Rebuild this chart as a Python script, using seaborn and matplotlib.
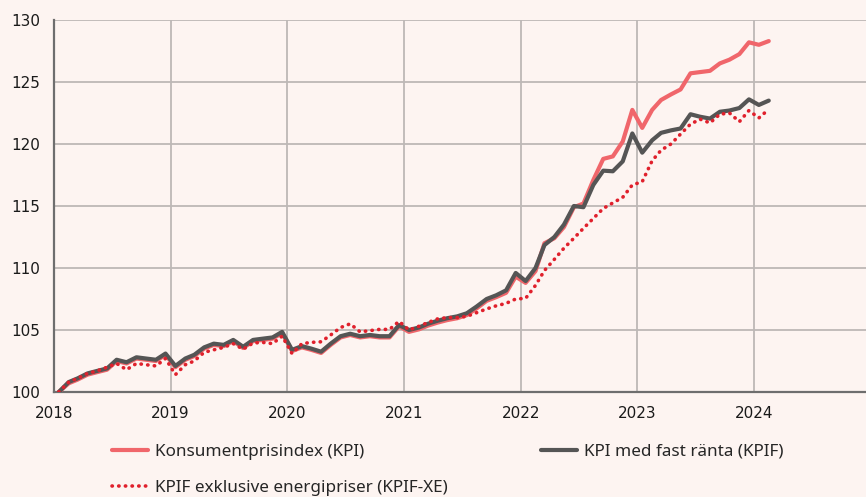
import pandas as pd
import matplotlib
matplotlib.use('Agg')
import matplotlib.pyplot as plt
import seaborn as sns

# Monthly index values, Jan 2018 - Feb 2024
kpif = [100.0, 100.8, 101.1, 101.5, 101.7, 101.9, 102.6, 102.4, 102.8, 102.7, 102.6, 103.1,
        102.1, 102.7, 103.0, 103.6, 103.9, 103.8, 104.2, 103.65, 104.2, 104.3, 104.4, 104.85,
        103.4, 103.7, 103.5, 103.25, 103.9, 104.5, 104.7, 104.5, 104.6, 104.5, 104.5, 105.4,
        105.0, 105.2, 105.5, 105.75, 105.95, 106.1, 106.35, 106.9, 107.5, 107.8, 108.2, 109.6,
        108.95, 110.0, 111.85, 112.5, 113.5, 115.0, 114.9, 116.7, 117.85, 117.8, 118.6, 120.85,
        119.3, 120.3, 120.9, 121.1, 121.25, 122.4, 122.2, 122.05, 122.6, 122.7, 122.9, 123.6,
        123.15, 123.5]

kpi = [100.0, 100.7, 101.0, 101.4, 101.6, 101.8, 102.5, 102.3, 102.7, 102.6, 102.5, 103.0,
       102.0, 102.6, 102.9, 103.5, 103.8, 103.7, 104.1, 103.55, 104.1, 104.2, 104.3, 104.75,
       103.3, 103.6, 103.4, 103.15, 103.8, 104.4, 104.6, 104.4, 104.5, 104.4, 104.4, 105.3,
       104.85, 105.05, 105.35, 105.6, 105.8, 105.95, 106.2, 106.75, 107.35, 107.65, 108.0, 109.3,
       108.8, 109.75, 112.0, 112.4, 113.3, 114.9, 115.2, 117.1, 118.8, 119.0, 120.2, 122.75,
       121.3, 122.75, 123.55, 124.0, 124.4, 125.7, 125.8, 125.9, 126.5, 126.8, 127.25, 128.2,
       128.0, 128.3]

kpif_xe = [100.0, 100.8, 101.1, 101.5, 101.7, 102.0, 102.3, 101.8, 102.3, 102.2, 102.1, 102.7,
           101.4, 102.2, 102.5, 103.2, 103.4, 103.6, 103.9, 103.45, 103.95, 104.0, 103.9, 104.5,
           103.1, 103.9, 104.0, 104.05, 104.6, 105.2, 105.5, 104.85, 104.95, 105.05, 105.05, 105.7,
           105.0, 105.3, 105.6, 105.9, 106.0, 106.0, 106.1, 106.4, 106.7, 106.95, 107.15, 107.5,
           107.55, 108.6, 109.8, 110.7, 111.6, 112.4, 113.2, 114.0, 114.8, 115.25, 115.7, 116.7,
           116.96, 118.65, 119.5, 120.0, 120.8, 121.6, 122.0, 121.7, 122.4, 122.5, 121.8, 122.7,
           122.1, 122.8]

labels = ['Konsumentprisindex (KPI)', 'KPI med fast ränta (KPIF)',
          'KPIF exklusive energipriser (KPIF-XE)']
years = list(range(2018, 2026))

dates = pd.date_range('2018-01-01', periods=len(kpif), freq='MS') + pd.Timedelta(days=15)
df = pd.DataFrame({'date': dates, 'KPI': kpi, 'KPIF': kpif, 'KPIF-XE': kpif_xe})

bg = '#fdf4f1'
sns.set_style('white')
plt.rcParams['font.family'] = ['DejaVu Sans']

fig = plt.figure(figsize=(8.66, 4.97), dpi=100, facecolor=bg)
ax = fig.add_axes([54 / 866, 1 - 392 / 497, (871 - 54) / 866, 372 / 497])
ax.set_facecolor(bg)

sns.lineplot(data=df, x='date', y='KPI', ax=ax, color='#f0666b', lw=3.0,
             label=labels[0], zorder=3)
sns.lineplot(data=df, x='date', y='KPIF', ax=ax, color='#555555', lw=3.0,
             label=labels[1], zorder=4)
sns.lineplot(data=df, x='date', y='KPIF-XE', ax=ax, color='#e0202c', lw=2.6,
             label=labels[2], zorder=5, linestyle=(0, (0.1, 1.75)),
             dash_capstyle='round')

ax.set_xlim(pd.Timestamp('2018-01-01'), pd.Timestamp('2025-01-01'))
ax.set_ylim(100, 130)
ax.set_yticks(range(100, 131, 5))
ticks = [pd.Timestamp(f'{y}-01-01') for y in years]
ax.set_xticks(ticks)
# last year label falls outside the picture in the reference
ax.set_xticklabels([str(y) if y < 2025 else '' for y in years])
ax.set_xlabel('')
ax.set_ylabel('')

ax.grid(True, color='#bdb8b6', lw=1.3, zorder=0)
ax.set_axisbelow(True)
for s in ['top', 'right']:
    ax.spines[s].set_visible(False)
for s in ['left', 'bottom']:
    ax.spines[s].set_color('#6e6e6e')
    ax.spines[s].set_linewidth(1.6)
ax.tick_params(axis='both', length=0, labelsize=11, colors='#1a1a1a')
ax.tick_params(axis='y', pad=10)
ax.tick_params(axis='x', pad=10)

handles, _ = ax.get_legend_handles_labels()
ax.get_legend().remove()
order = [0, 2, 1]
fig.legend([handles[i] for i in order], [labels[i] for i in order],
           loc='upper left', bbox_to_anchor=(112 / 866, 1 - 444 / 497),
           ncol=2, frameon=False, borderpad=0, borderaxespad=0,
           handlelength=2.1, handletextpad=0.4, columnspacing=5.5,
           labelspacing=1.15, prop={'family': 'Noto Sans', 'size': 12.3})

fig.savefig('out.png', dpi=100, facecolor=bg)
